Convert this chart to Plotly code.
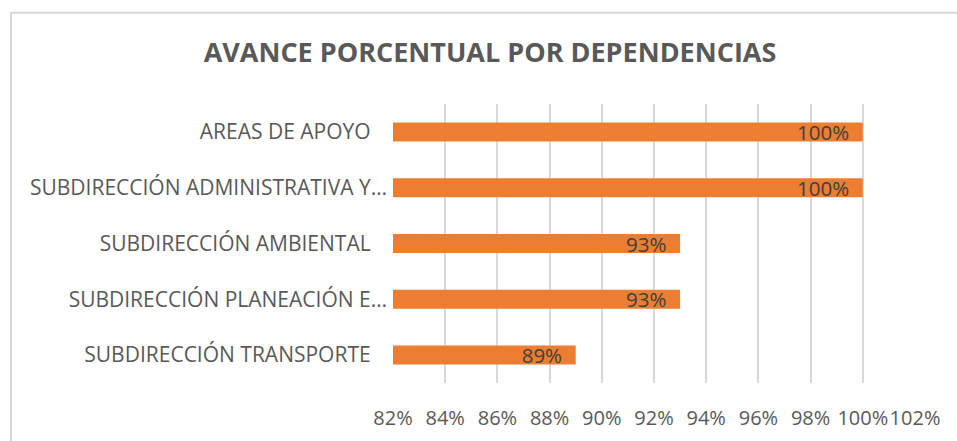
import plotly.graph_objects as go

categories = [
    "AREAS DE APOYO\u00a0\u00a0\u00a0",
    "SUBDIRECCIÓN ADMINISTRATIVA Y…",
    "SUBDIRECCIÓN AMBIENTAL\u00a0\u00a0\u00a0",
    "SUBDIRECCIÓN PLANEACIÓN E…",
    "SUBDIRECCIÓN TRANSPORTE\u00a0\u00a0\u00a0",
]
values = [1.00, 1.00, 0.93, 0.93, 0.89]
value_labels = ["100%", "100%", "93%", "93%", "89%"]
tick_vals = [0.82, 0.84, 0.86, 0.88, 0.90, 0.92, 0.94, 0.96, 0.98, 1.00, 1.02]
tick_text = ["82%", "84%", "86%", "88%", "90%", "92%", "94%", "96%", "98%", "100%", "102%"]

FONT = "Open Sans"
W, H = 957, 441
ML, MR, MT, MB = 393, 42, 103.5, 57.5

fig = go.Figure(
    go.Bar(
        y=categories,
        x=values,
        orientation="h",
        marker=dict(color="#ED7D31", line=dict(width=0)),
        text=[t + "\u00a0\u00a0" for t in value_labels],
        textposition="inside",
        insidetextanchor="end",
        constraintext="none",
        textfont=dict(family=FONT, size=20.5, color="#404040"),
        width=0.34,
        hoverinfo="skip",
    )
)

pw = W - ML - MR
ph = H - MT - MB
fig.add_shape(
    type="rect", xref="paper", yref="paper",
    x0=(11 - ML) / pw, x1=(W + 20 - ML) / pw,
    y0=(H - MB - (H + 20)) / ph, y1=(H - MB - 12) / ph,
    line=dict(color="#d9d9d9", width=2), fillcolor="rgba(0,0,0,0)", layer="below",
)

fig.update_layout(
    width=W, height=H,
    margin=dict(l=ML, r=MR, t=MT, b=MB, autoexpand=False),
    paper_bgcolor="white", plot_bgcolor="white",
    showlegend=False,
    title=dict(
        text="<b>AVANCE PORCENTUAL POR DEPENDENCIAS</b>",
        x=490 / W, xanchor="center", y=1 - 53 / H, yanchor="middle",
        font=dict(family=FONT, size=27, color="#595959"),
    ),
    xaxis=dict(
        range=[0.82, 1.0200001], tickvals=tick_vals, ticktext=tick_text,
        tickangle=0, automargin=False,
        showgrid=True, gridcolor="#d9d9d9", gridwidth=2,
        zeroline=False, showline=False, ticks="",
        tickfont=dict(family=FONT, size=20, color="#595959"),
        ticklabelstandoff=21,
    ),
    yaxis=dict(
        autorange="reversed", showgrid=False, zeroline=False, showline=False,
        automargin=False,
        ticks="", tickfont=dict(family=FONT, size=21, color="#595959"),
        ticklabelstandoff=5,
    ),
)

fig.write_html(
    "out.html",
    config={"displayModeBar": False},
    post_script="document.body.style.margin='0';",
)
